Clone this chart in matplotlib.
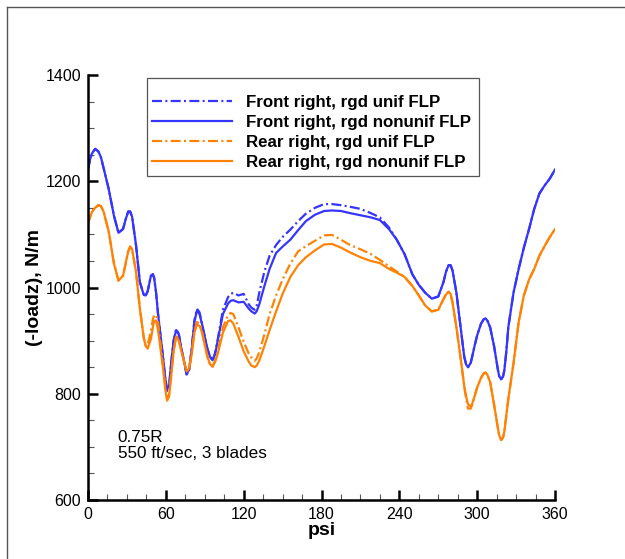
import matplotlib
matplotlib.use("Agg")
import matplotlib.pyplot as plt
from matplotlib.lines import Line2D
from matplotlib.patches import Rectangle
from matplotlib.ticker import MultipleLocator

plt.rcParams['font.family'] = ['Liberation Sans', 'DejaVu Sans']

psi = [0, 1.5, 3, 5.5, 8, 10, 12, 16, 20, 23.5,
       27, 29, 31, 32.5, 34, 37, 40, 43, 44.5, 46,
       48.5, 50, 51, 52.5, 54, 58, 59.5, 61, 62.5, 64,
       66, 68, 70, 72, 76, 78, 80, 82, 84, 86,
       88, 92, 94, 96, 98, 100, 104, 108, 110, 112,
       116, 120, 124, 126, 128.5, 130, 132, 136, 140, 145,
       150, 156, 162, 168, 175, 182, 188, 195, 202, 210,
       218, 225, 232, 238, 244, 250, 255, 260, 265, 270,
       274, 276, 278, 279.5, 281, 284, 287, 290, 291.5, 293,
       295, 296, 298, 300, 303, 305, 306.5, 308, 310, 313,
       316, 317, 318.5, 320, 321, 322.5, 324, 328, 332, 336,
       340, 344, 348, 352, 356, 360]

front_nonunif = [1222, 1240, 1252, 1261, 1256, 1245, 1225, 1185, 1135, 1103,
                 1110, 1128, 1143, 1143, 1133, 1080, 1010, 986, 985, 993,
                 1022, 1025, 1018, 990, 950, 865, 830, 808, 815, 855,
                 900, 920, 912, 885, 838, 845, 885, 935, 957, 950,
                 930, 885, 870, 863, 875, 900, 950, 970, 975, 976,
                 972, 973, 960, 955, 951, 955, 968, 1003, 1035, 1065,
                 1077, 1090, 1108, 1125, 1137, 1144, 1145, 1144, 1140, 1136,
                 1132, 1127, 1110, 1090, 1063, 1025, 1005, 990, 979, 983,
                 1010, 1030, 1042, 1042, 1032, 990, 930, 870, 855, 850,
                 858, 868, 890, 910, 932, 940, 942, 937, 925, 890,
                 845, 833, 827, 833, 845, 880, 925, 990, 1035, 1075,
                 1110, 1148, 1177, 1192, 1205, 1222]

front_unif = [1222, 1240, 1252, 1261, 1256, 1245, 1225, 1185, 1135, 1103,
              1110, 1128, 1143, 1143, 1133, 1080, 1010, 986, 985, 993,
              1022, 1025, 1018, 990, 950, 865, 830, 805, 812, 855,
              900, 922, 912, 885, 836, 845, 887, 938, 960, 953,
              930, 885, 870, 862, 877, 902, 958, 982, 988, 990,
              985, 988, 968, 962, 958, 965, 990, 1030, 1060, 1080,
              1095, 1109, 1125, 1139, 1150, 1157, 1157, 1155, 1152, 1148,
              1140, 1132, 1113, 1090, 1063, 1025, 1005, 990, 979, 983,
              1010, 1030, 1042, 1042, 1032, 990, 930, 870, 855, 850,
              858, 868, 890, 910, 932, 940, 942, 937, 925, 890,
              845, 833, 827, 833, 845, 880, 925, 990, 1035, 1075,
              1110, 1148, 1177, 1192, 1205, 1222]

rear_nonunif = [1120, 1132, 1142, 1150, 1155, 1153, 1143, 1105, 1045, 1013,
                1022, 1045, 1068, 1077, 1072, 1030, 960, 905, 890, 885,
                903, 925, 937, 938, 920, 845, 810, 787, 795, 830,
                880, 908, 900, 880, 842, 848, 875, 915, 930, 928,
                915, 870, 856, 851, 860, 875, 915, 937, 938, 932,
                907, 880, 860, 853, 850, 853, 862, 890, 920, 955,
                988, 1020, 1042, 1057, 1070, 1081, 1082, 1075, 1066, 1057,
                1050, 1046, 1035, 1028, 1020, 1003, 985, 966, 955, 958,
                978, 987, 992, 988, 972, 925, 872, 815, 795, 780,
                776, 780, 795, 812, 830, 838, 840, 835, 822, 780,
                735, 722, 713, 718, 730, 760, 790, 857, 935, 985,
                1015, 1035, 1060, 1078, 1095, 1110]

rear_unif = [1120, 1132, 1142, 1150, 1155, 1153, 1143, 1105, 1045, 1013,
             1022, 1045, 1068, 1077, 1072, 1030, 960, 905, 890, 892,
             918, 940, 948, 948, 935, 850, 815, 790, 798, 835,
             880, 910, 900, 880, 842, 848, 878, 918, 935, 932,
             915, 870, 856, 851, 862, 880, 925, 948, 952, 950,
             925, 898, 875, 868, 862, 866, 878, 912, 950, 985,
             1015, 1045, 1068, 1078, 1088, 1098, 1099, 1090, 1080, 1072,
             1063, 1052, 1040, 1030, 1020, 1003, 985, 966, 955, 958,
             978, 987, 992, 988, 972, 925, 872, 815, 790, 772,
             772, 778, 795, 812, 830, 838, 840, 835, 822, 780,
             735, 722, 713, 718, 730, 760, 790, 857, 935, 985,
             1015, 1035, 1060, 1078, 1095, 1110]

labels = ["Front right, rgd unif FLP", "Front right, rgd nonunif FLP",
          "Rear right, rgd unif FLP", "Rear right, rgd nonunif FLP"]
xticks = [0, 60, 120, 180, 240, 300, 360]
yticks = [600, 800, 1000, 1200, 1400]

BLUE = '#3535ff'
ORANGE = '#ff8205'
dashdot = (0, (4.5, 1.5, 0.9, 1.5))

fig = plt.figure(figsize=(6.25, 5.59), dpi=100)
ax = fig.add_axes([88/625, 1-500/559, (555-88)/625, (500-75)/559])

lw = 1.6
ax.plot(psi, front_unif, color=BLUE, lw=lw, linestyle=dashdot, label=labels[0])
ax.plot(psi, front_nonunif, color=BLUE, lw=lw, label=labels[1])
ax.plot(psi, rear_unif, color=ORANGE, lw=lw, linestyle=dashdot, label=labels[2])
ax.plot(psi, rear_nonunif, color=ORANGE, lw=lw, label=labels[3])

ax.set_xlim(0, 360)
ax.set_ylim(600, 1400)
ax.set_xticks(xticks)
ax.set_yticks(yticks)
ax.xaxis.set_minor_locator(MultipleLocator(15))
ax.yaxis.set_minor_locator(MultipleLocator(50))
for s in ['top', 'right']:
    ax.spines[s].set_visible(False)
for s in ['left', 'bottom']:
    ax.spines[s].set_linewidth(1.8)
ax.tick_params(which='major', direction='in', length=7, width=1.8, labelsize=11.5, pad=5)
ax.tick_params(which='minor', direction='in', length=4, width=0.8, color='#555555')

ax.set_xlabel('psi', fontsize=14, fontweight='bold', labelpad=0)
ax.set_ylabel('(-loadz), N/m', fontsize=14, fontweight='bold', labelpad=2)

# legend frame drawn separately so the entries can sit as in the reference
ax.add_patch(Rectangle((0.1263, 0.7624), 0.7110, 0.2305, transform=ax.transAxes,
                       facecolor='white', edgecolor='#555555', lw=0.9, zorder=4))
leg = ax.legend(loc='upper left', bbox_to_anchor=(0.1153, 0.978), frameon=False,
                handlelength=4.7, handletextpad=0.85,
                borderaxespad=0, borderpad=0.6, labelspacing=0.31,
                prop={'weight': 'bold', 'size': 12.2})
leg.set_zorder(5)

ax.text(23, 731, "0.75R\n550 ft/sec, 3 blades", fontsize=12.3, ha='left', va='top',
        linespacing=1.05)

fig.add_artist(Line2D([6.5/625, 6.5/625], [0, 1-7/559], color='#555555', lw=1.0,
                      transform=fig.transFigure))
fig.add_artist(Line2D([6.5/625, 1], [1-7/559, 1-7/559], color='#555555', lw=1.0,
                      transform=fig.transFigure))

fig.savefig('out.png', dpi=100)
